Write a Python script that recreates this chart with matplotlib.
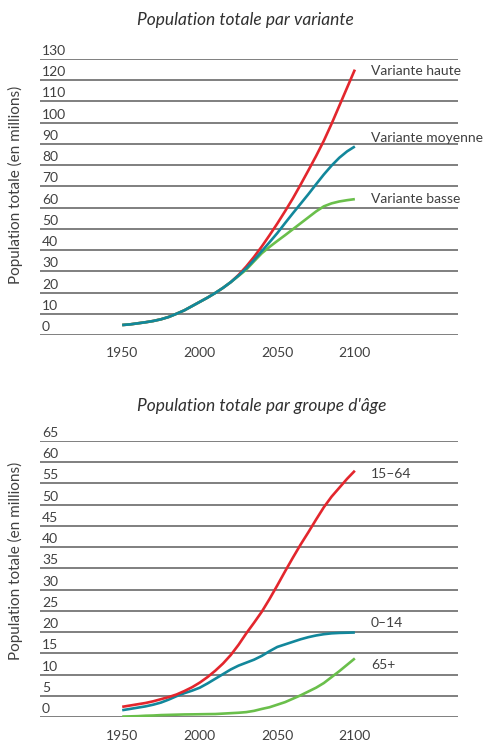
import matplotlib
matplotlib.use("Agg")
import matplotlib.pyplot as plt

plt.rcParams['font.family'] = ['Lato', 'DejaVu Sans']

years = list(range(1950, 2101, 5))

# top panel: total population by projection variant (millions)
hist = [4.7, 5.0, 5.5, 6.0, 6.6, 7.4, 8.5, 10.0, 11.6, 13.6, 15.6, 17.6,
        19.8, 22.2, 24.9]
haute = hist + [28.3, 32.3, 36.8, 41.7, 47.0, 52.5, 58.3, 64.3, 70.8, 77.5,
                84.3, 91.5, 99.5, 108.0, 116.5, 125.0]
moyenne = hist + [28.0, 31.4, 35.3, 39.5, 43.7, 48.0, 52.7, 57.3, 61.8, 66.3,
                  71.0, 75.6, 79.8, 83.5, 86.5, 88.8]
basse = hist + [27.8, 30.8, 34.7, 38.5, 41.5, 44.3, 47.0, 49.8, 52.6, 55.4,
                58.2, 60.6, 62.0, 62.9, 63.5, 64.0]
top_ticks = list(range(0, 131, 10))

# bottom panel: population by age group (millions)
g15_64 = [2.4, 2.7, 3.0, 3.3, 3.7, 4.2, 4.7, 5.3, 6.1, 7.0, 8.1, 9.4, 10.9,
          12.6, 14.6, 17.0, 19.7, 22.2, 24.8, 27.8, 31.0, 34.3, 37.5, 40.6,
          43.5, 46.5, 49.4, 51.9, 54.0, 56.1, 58.0]
g0_14 = [1.6, 1.9, 2.2, 2.5, 2.9, 3.4, 4.1, 4.9, 5.6, 6.2, 6.9, 7.9, 9.0,
         10.1, 11.2, 12.1, 12.8, 13.5, 14.4, 15.5, 16.5, 17.1, 17.7, 18.3,
         18.8, 19.2, 19.5, 19.7, 19.8, 19.85, 19.9]
g65 = [0.1, 0.15, 0.2, 0.3, 0.35, 0.45, 0.5, 0.55, 0.6, 0.62, 0.65, 0.68, 0.7,
       0.8, 0.9, 1.0, 1.15, 1.45, 1.9, 2.3, 2.9, 3.5, 4.3, 5.1, 6.0, 6.9, 8.0,
       9.4, 10.8, 12.3, 13.8]
bot_ticks = list(range(0, 66, 5))

xticks = [1950, 2000, 2050, 2100]

RED = '#e3262d'
TEAL = '#12879b'
GREEN = '#6abf4b'
TXT = '#404040'

W, H = 488, 741
fig = plt.figure(figsize=(W / 100, H / 100), dpi=100)


def panel(rect, ticks, series, labels, title, title_y):
    ax = fig.add_axes(rect)
    ax.set_xlim(1897, 2166.5)
    ax.set_ylim(ticks[0], ticks[-1])
    for s in ax.spines.values():
        s.set_visible(False)
    ax.set_yticks([])
    for t in ticks:
        ax.axhline(t, color='#5c5c5c', lw=1.1, zorder=1)
        ax.annotate(str(t), xy=(0, t), xycoords=('axes fraction', 'data'),
                    xytext=(2, 4), textcoords='offset pixels',
                    ha='left', va='baseline', fontsize=10, color=TXT)
    ax.set_xticks(xticks)
    ax.set_xticklabels([str(x) for x in xticks])
    ax.tick_params(axis='x', length=0, pad=9, labelsize=10, labelcolor=TXT)
    for (vals, col), (lab, dy) in zip(series, labels):
        ax.plot(years, vals, color=col, lw=1.9, zorder=3, solid_capstyle='butt')
        ax.annotate(lab, xy=(years[-1], vals[-1]), xytext=(16, dy),
                    textcoords='offset pixels', ha='left', va='center',
                    fontsize=10, color=TXT)
    fig.text(137 / W, 1 - title_y / H, title, ha='left', va='center',
             fontsize=12.5, style='italic', color='#303030')
    return ax


top = panel([40 / W, 1 - 335 / H, 418 / W, 276 / H], top_ticks,
            [(haute, RED), (basse, GREEN), (moyenne, TEAL)],
            [('Variante haute', -1), ('Variante basse', 0), ('Variante moyenne', 8)],
            'Population totale par variante', 20)

bot = panel([40 / W, 1 - 717 / H, 418 / W, 276 / H], bot_ticks,
            [(g65, GREEN), (g0_14, TEAL), (g15_64, RED)],
            [('65+', -7), ('0\u201314', 10), ('15\u201364', -3)],
            "Population totale par groupe d'\u00e2ge", 406)

fig.text(15 / W, 1 - 185 / H, 'Population totale (en millions)', rotation=90,
         ha='center', va='center', fontsize=11, color=TXT)
fig.text(15 / W, 1 - 561 / H, 'Population totale (en millions)', rotation=90,
         ha='center', va='center', fontsize=11, color=TXT)

fig.savefig('out.png', dpi=100)
